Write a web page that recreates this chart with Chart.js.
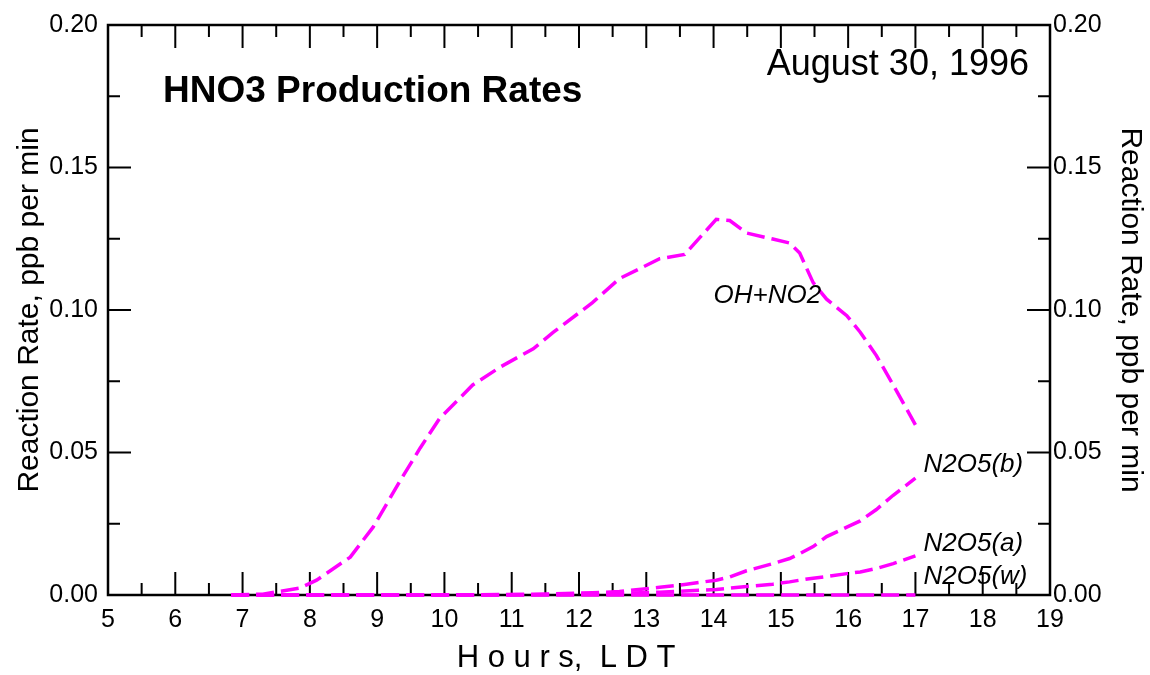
<!DOCTYPE html>
<html>
<head>
<meta charset="utf-8">
<script src="https://cdn.jsdelivr.net/npm/chart.js@4"></script>
<style>
  html, body { margin: 0; padding: 0; background: #fff; }
  #wrap { width: 1150px; height: 675px; }
</style>
</head>
<body>
<div id="wrap"><canvas id="chart"></canvas></div>
<script>
// hours (LDT) sampled along the curves
var hours = [6.83, 7.3, 7.85, 8.1, 8.6, 8.94, 9.34, 9.64, 9.93, 10.42, 10.83, 11.32, 11.62, 12.2, 12.6,
             13.2, 13.57, 14.04, 14.24, 14.49, 14.88, 15.13, 15.28, 15.48, 15.68, 15.98, 16.18, 16.42, 16.67, 17.0];

var ohNo2 = [0, 0.0003, 0.0024, 0.0052, 0.0133, 0.0238, 0.040, 0.0516, 0.062, 0.0737, 0.080, 0.0864, 0.0922, 0.1026, 0.111,
             0.118, 0.1195, 0.1318, 0.1314, 0.127, 0.1249, 0.1235, 0.120, 0.1096, 0.1038, 0.098, 0.0922, 0.084, 0.0737, 0.0597];

var n2o5b = [0, 0, 0, 0, 0, 0, 0, 0, 0, 0.0001, 0.0002, 0.0003, 0.0004, 0.0008, 0.0012,
             0.0027, 0.0037, 0.0052, 0.0063, 0.0085, 0.011, 0.0128, 0.0145, 0.017, 0.0205, 0.0238, 0.026, 0.030, 0.035, 0.041];

var n2o5a = [0, 0, 0, 0, 0, 0, 0, 0, 0, 0, 0, 0.0001, 0.0002, 0.0004, 0.0006,
             0.001, 0.0014, 0.0019, 0.0024, 0.003, 0.0038, 0.0046, 0.0052, 0.0059, 0.0065, 0.0075, 0.0081, 0.0093, 0.011, 0.0137];

var n2o5w = [0, 0, 0, 0, 0, 0, 0, 0, 0, 0, 0, 0, 0, 0, 0,
             0, 0, 0, 0, 0, 0, 0, 0, 0, 0, 0, 0, 0, 0, 0];

var seriesNames = ['OH+NO2', 'N2O5(b)', 'N2O5(a)', 'N2O5(w)'];
var seriesValues = [ohNo2, n2o5b, n2o5a, n2o5w];

// curve labels: [text, hour, rate]
var curveLabels = [
    ['OH+NO2', 14.0, 0.105],
    ['N2O5(b)', 17.12, 0.0458],
    ['N2O5(a)', 17.12, 0.0180],
    ['N2O5(w)', 17.12, 0.0063]
];

var FONT = "'Liberation Sans', Arial, Helvetica, sans-serif";
var MAGENTA = '#ff00ff';

var datasets = seriesValues.map(function(vals, i) {
    return {
        label: seriesNames[i],
        data: vals.map(function(v, j) { return { x: hours[j], y: v }; }),
        borderColor: MAGENTA,
        borderWidth: 3.5,
        borderDash: [18, 7],
        pointRadius: 0,
        fill: false,
        tension: 0,
        clip: 4,
        yAxisID: 'y'
    };
});

// frame and inward ticks go under the curves, text goes on top
var decorPlugin = {
    id: 'decor',
    beforeDatasetsDraw: function(chart) {
        var ctx = chart.ctx;
        var a = chart.chartArea;
        var xs = chart.scales.x;
        var ys = chart.scales.y;
        ctx.save();
        ctx.strokeStyle = '#000';
        ctx.lineWidth = 2.5;
        ctx.strokeRect(a.left, a.top, a.right - a.left, a.bottom - a.top);

        ctx.lineWidth = 2;
        ctx.beginPath();
        for (var h = 5.5; h < 19; h += 0.5) {
            var px = xs.getPixelForValue(h);
            var len = (h % 1 === 0) ? 23 : 12;
            ctx.moveTo(px, a.bottom); ctx.lineTo(px, a.bottom - len);
            ctx.moveTo(px, a.top); ctx.lineTo(px, a.top + len);
        }
        for (var k = 1; k < 8; k++) {
            var v = k * 0.025;
            var py = ys.getPixelForValue(v);
            var l = (k % 2 === 0) ? 23 : 12;
            ctx.moveTo(a.left, py); ctx.lineTo(a.left + l, py);
            ctx.moveTo(a.right, py); ctx.lineTo(a.right - l, py);
        }
        ctx.stroke();
        ctx.restore();
    },
    afterDatasetsDraw: function(chart) {
        var ctx = chart.ctx;
        var xs = chart.scales.x;
        var ys = chart.scales.y;
        ctx.save();
        ctx.fillStyle = '#000';
        ctx.textBaseline = 'middle';
        ctx.textAlign = 'left';
        ctx.font = 'italic 26px ' + FONT;
        curveLabels.forEach(function(c) {
            ctx.fillText(c[0], xs.getPixelForValue(c[1]), ys.getPixelForValue(c[2]));
        });

        ctx.font = 'bold 37px ' + FONT;
        ctx.fillText('HNO3 Production Rates', 163, 92);

        ctx.textAlign = 'right';
        ctx.font = '36px ' + FONT;
        ctx.fillText('August 30, 1996', 1029, 65);
        ctx.restore();
    }
};

var yTicks = {
    stepSize: 0.05,
    color: '#000',
    font: { family: FONT, size: 25 },
    callback: function(v) { return v.toFixed(2); }
};

new Chart(document.getElementById('chart').getContext('2d'), {
    type: 'line',
    data: { datasets: datasets },
    options: {
        responsive: true,
        maintainAspectRatio: false,
        animation: false,
        layout: { padding: { top: 20, left: 0, right: 0, bottom: 0 } },
        plugins: {
            legend: { display: false },
            tooltip: { enabled: false }
        },
        scales: {
            x: {
                type: 'linear',
                min: 5,
                max: 19,
                grid: { display: false, drawTicks: false },
                border: { display: false },
                ticks: {
                    stepSize: 1,
                    padding: 10,
                    color: '#000',
                    maxRotation: 0,
                    font: { family: FONT, size: 25 }
                },
                title: {
                    display: true,
                    text: 'H o u r s,  L D T   ',
                    color: '#000',
                    font: { family: FONT, size: 31, lineHeight: 1 },
                    padding: { top: 0, bottom: 1 }
                },
                afterFit: function(s) { s.height = 80; }
            },
            y: {
                position: 'left',
                min: 0,
                max: 0.2,
                grid: { display: false, drawTicks: false },
                border: { display: false },
                ticks: Object.assign({ padding: 10 }, yTicks),
                title: {
                    display: true,
                    text: 'Reaction Rate, ppb per min',
                    color: '#000',
                    font: { family: FONT, size: 30, lineHeight: 1 },
                    padding: { top: 15, bottom: 0 }
                },
                afterFit: function(s) { s.width = 108; }
            },
            y2: {
                position: 'right',
                min: 0,
                max: 0.2,
                grid: { display: false, drawTicks: false },
                border: { display: false },
                ticks: Object.assign({ padding: 3 }, yTicks),
                title: {
                    display: true,
                    text: 'Reaction Rate, ppb per min',
                    color: '#000',
                    font: { family: FONT, size: 30, lineHeight: 1 },
                    padding: { top: 5, bottom: 0 }
                },
                afterFit: function(s) { s.width = 100; }
            }
        }
    },
    plugins: [decorPlugin]
});
</script>
</body>
</html>
